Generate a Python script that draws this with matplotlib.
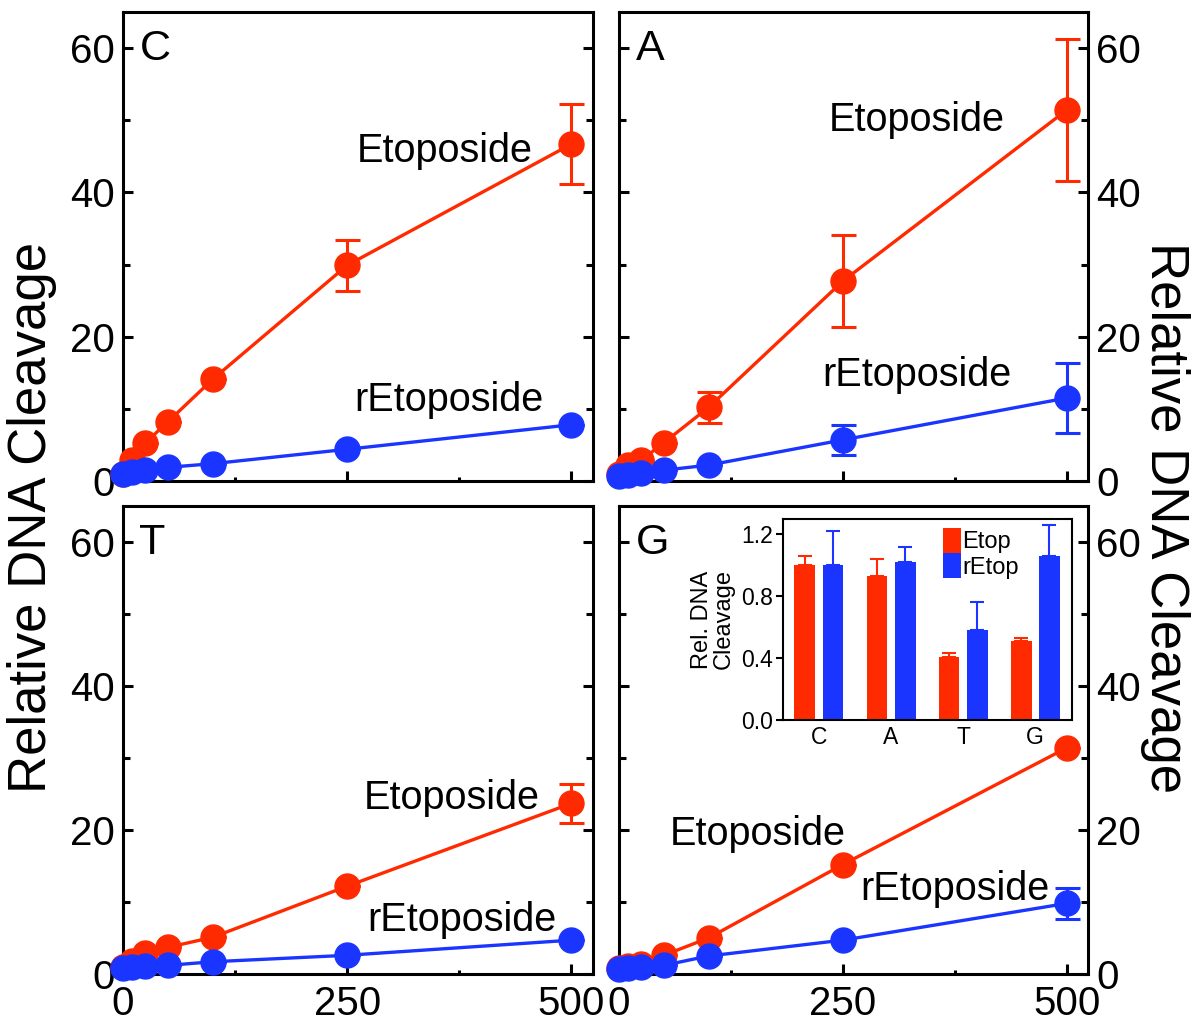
import matplotlib
matplotlib.use('Agg')
from matplotlib import pyplot as plt
from matplotlib.ticker import MultipleLocator

plt.rcParams['font.family'] = ['Liberation Sans', 'DejaVu Sans']

vermelho = '#ff2a00'
azul = '#1a35ff'

# dose do fármaco (uM)
dose = [0, 10, 25, 50, 100, 250, 500]

# painel C
etop_C = [1.0, 2.9, 5.3, 8.2, 14.1, 29.9, 46.7]
etop_C_err = [0, 0, 0, 0, 0, 3.5, 5.5]
retop_C = [1.0, 1.2, 1.5, 1.9, 2.4, 4.4, 7.8]
retop_C_err = [0, 0, 0, 0, 0, 0, 0]

# painel A
etop_A = [1.0, 2.2, 2.9, 5.3, 10.2, 27.7, 51.4]
etop_A_err = [0, 0, 0, 0, 2.1, 6.4, 9.8]
retop_A = [0.7, 0.8, 1.1, 1.5, 2.2, 5.7, 11.5]
retop_A_err = [0, 0, 0, 0, 0, 2.1, 4.9]

# painel T
etop_T = [1.0, 1.8, 2.9, 3.7, 5.1, 12.2, 23.7]
etop_T_err = [0, 0, 0, 0, 0, 0, 2.7]
retop_T = [0.8, 1.0, 1.1, 1.2, 1.7, 2.6, 4.7]
retop_T_err = [0, 0, 0, 0, 0, 0, 0]

# painel G
etop_G = [0.8, 1.1, 1.4, 2.6, 5.0, 15.2, 31.4]
etop_G_err = [0, 0, 0, 0, 0, 0, 0]
retop_G = [0.7, 0.8, 1.0, 1.2, 2.5, 4.7, 9.8]
retop_G_err = [0, 0, 0, 0, 0, 0, 2.2]

# inserto (barras)
bases = ['C', 'A', 'T', 'G']
barra_etop = [1.00, 0.93, 0.41, 0.51]
barra_etop_err = [0.06, 0.11, 0.02, 0.02]
barra_retop = [1.00, 1.02, 0.58, 1.06]
barra_retop_err = [0.22, 0.10, 0.18, 0.20]

fig = plt.figure(figsize=(11.99, 10.23), dpi=100)

paineis = [
    ('C', [0.1026, 0.5298, 0.392, 0.4585], etop_C, etop_C_err, retop_C, retop_C_err,
     (359, 45.8), (363, 11.2), 'left', False),
    ('A', [0.5163, 0.5298, 0.3912, 0.4585], etop_A, etop_A_err, retop_A, retop_A_err,
     (333, 50.0), (333, 14.7), 'right', False),
    ('T', [0.1026, 0.0479, 0.392, 0.4575], etop_T, etop_T_err, retop_T, retop_T_err,
     (367, 24.4), (378, 7.5), 'left', True),
    ('G', [0.5163, 0.0479, 0.3912, 0.4575], etop_G, etop_G_err, retop_G, retop_G_err,
     (155, 19.5), (375, 11.8), 'right', True),
]

for letra, pos, et, et_err, ret, ret_err, pos_et, pos_ret, lado, rotulo_x in paineis:
    ax = fig.add_axes(pos)
    ax.errorbar(dose, et, yerr=et_err, color=vermelho, lw=2.4, marker='o', ms=18,
                capsize=9, capthick=2.2, elinewidth=2.2, zorder=3)
    ax.errorbar(dose, ret, yerr=ret_err, color=azul, lw=2.4, marker='o', ms=18,
                capsize=9, capthick=2.2, elinewidth=2.2, zorder=4)
    ax.set_xlim(0, 524)
    ax.set_ylim(0, 65)
    ax.set_xticks([0, 250, 500])
    ax.xaxis.set_minor_locator(MultipleLocator(125))
    ax.set_yticks([0, 20, 40, 60])
    ax.yaxis.set_minor_locator(MultipleLocator(10))
    for s in ax.spines.values():
        s.set_linewidth(2.2)
    ax.tick_params(axis='both', which='major', direction='in', length=7, width=2.2,
                   labelsize=29, left=True, right=True, top=False, pad=6)
    ax.tick_params(axis='y', which='minor', direction='in', length=5, width=2.2,
                   left=True, right=True)
    ax.tick_params(axis='x', which='minor', direction='in', length=3, width=2.2, top=False)
    if lado == 'right':
        ax.tick_params(axis='y', labelleft=False, labelright=True)
    ax.tick_params(axis='x', labelbottom=rotulo_x, pad=8)
    for c in ax.get_children():
        c.set_clip_on(False)
    ax.text(0.035, 0.92, letra, transform=ax.transAxes, fontsize=31, ha='left', va='center')
    ax.text(pos_et[0], pos_et[1], 'Etoposide', fontsize=28.5, ha='center', va='center')
    ax.text(pos_ret[0], pos_ret[1], 'rEtoposide', fontsize=28.5, ha='center', va='center')

fig.text(0.027, 0.494, 'Relative DNA Cleavage', fontsize=38, rotation=90,
         ha='center', va='center')
fig.text(0.972, 0.494, 'Relative DNA Cleavage', fontsize=38, rotation=270,
         ha='center', va='center')

# inserto
axi = fig.add_axes([0.653, 0.2962, 0.241, 0.1965])
xs = list(range(len(bases)))
largura = 0.29
axi.bar([x - 0.195 for x in xs], barra_etop, largura, color=vermelho,
        yerr=[[0] * 4, barra_etop_err], ecolor=vermelho, capsize=5,
        error_kw={'elinewidth': 1.5, 'capthick': 1.5}, label='Etop')
axi.bar([x + 0.195 for x in xs], barra_retop, largura, color=azul,
        yerr=[[0] * 4, barra_retop_err], ecolor=azul, capsize=5,
        error_kw={'elinewidth': 1.5, 'capthick': 1.5}, label='rEtop')
axi.set_xlim(-0.5, 3.51)
axi.set_ylim(0, 1.3)
axi.set_yticks([0.0, 0.4, 0.8, 1.2])
axi.set_yticklabels(['0.0', '0.4', '0.8', '1.2'])
axi.set_xticks(xs)
axi.set_xticklabels(bases)
axi.tick_params(axis='y', direction='out', length=5, width=1.5, labelsize=16.5, pad=2)
axi.tick_params(axis='x', length=0, labelsize=16.5, pad=4)
for s in axi.spines.values():
    s.set_linewidth(1.5)
axi.set_ylabel('Rel. DNA\nCleavage', fontsize=17, linespacing=0.95, labelpad=5)
axi.legend(loc='upper left', bbox_to_anchor=(0.555, 0.955), frameon=False, fontsize=17,
           handlelength=0.75, handleheight=1.25, handletextpad=0.05, labelspacing=0.0,
           borderpad=0.0, borderaxespad=0.0)

plt.savefig('out.png', dpi=100)
